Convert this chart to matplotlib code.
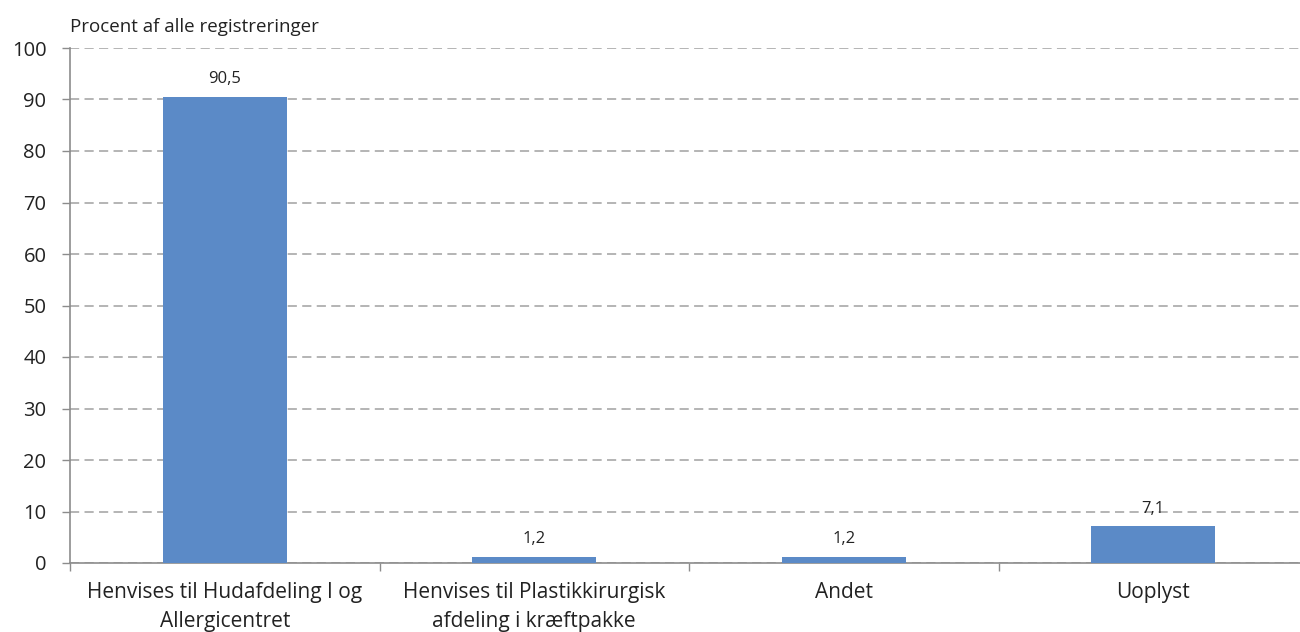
import matplotlib.pyplot as plt
import numpy as np

plt.rcParams['font.family'] = ['Open Sans', 'DejaVu Sans']

categories = ['Henvises til Hudafdeling I og\nAllergicentret',
              'Henvises til Plastikkirurgisk\nafdeling i kræftpakke',
              'Andet',
              'Uoplyst']
values = [90.5, 1.2, 1.2, 7.1]
value_labels = ['90,5', '1,2', '1,2', '7,1']
yticks = [0, 10, 20, 30, 40, 50, 60, 70, 80, 90, 100]

grey = '#8c8c8c'
text_col = '#222222'
fig = plt.figure(figsize=(13, 6.32), dpi=100)
ax = fig.add_axes([70 / 1300, 69 / 632, 1238 / 1300, 515 / 632])

x = np.arange(len(categories))
ax.bar(x, values, width=0.4, color='#5b8ac7', zorder=3)

for xi, v, lab in zip(x, values, value_labels):
    ax.annotate(lab, (xi, v), xytext=(0, 7), textcoords='offset points',
                ha='center', va='bottom', fontsize=12, color=text_col)

ax.set_xlim(-0.5, len(categories) - 0.5)
ax.set_ylim(0, 100)
ax.set_yticks(yticks)
ax.tick_params(axis='y', direction='out', length=6, color=grey, labelsize=14.5,
               labelcolor=text_col, width=1, pad=11)
ax.yaxis.grid(True, linestyle=(0, (6, 3.5)), color='#a0a0a0', linewidth=1.1, zorder=0)

# category ticks sit on the boundaries between groups
ax.set_xticks(np.arange(len(categories) + 1) - 0.5, minor=False)
ax.set_xticklabels([])
ax.set_xticks(x, minor=True)
ax.set_xticklabels(categories, minor=True, fontsize=15, color=text_col, linespacing=1.5)
ax.tick_params(axis='x', which='major', direction='out', length=6, color=grey, width=1)
ax.tick_params(axis='x', which='minor', length=0, pad=14)

for side in ['top', 'right']:
    ax.spines[side].set_visible(False)
for side in ['left', 'bottom']:
    ax.spines[side].set_color(grey)
    ax.spines[side].set_linewidth(1.2)

fig.text(70 / 1300, 1 - 27 / 632, 'Procent af alle registreringer', fontsize=13.5,
         color=text_col, va='center', ha='left')

fig.savefig('out.png', dpi=100)
